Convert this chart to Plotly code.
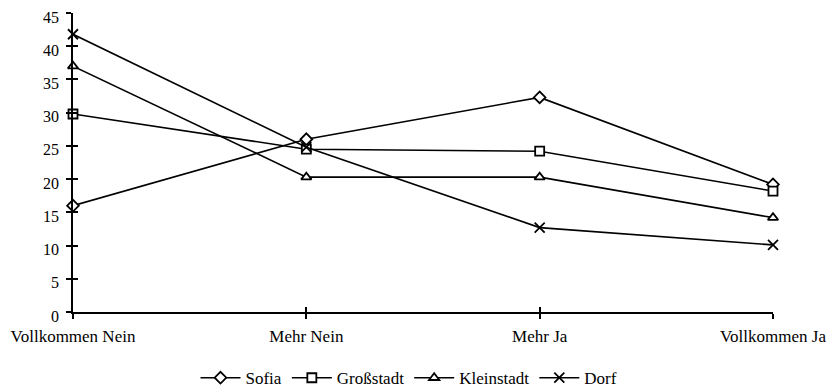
import plotly.graph_objects as go

categories = ["Vollkommen Nein", "Mehr Nein", "Mehr Ja", "Vollkommen Ja"]
x_pos = [0, 1, 2, 3]
sofia = [16.0, 26.0, 32.3, 19.2]
grossstadt = [29.8, 24.5, 24.2, 18.2]
kleinstadt = [37.0, 20.3, 20.3, 14.2]
dorf = [41.8, 24.8, 12.7, 10.1]
y_ticks = [0, 5, 10, 15, 20, 25, 30, 35, 40, 45]

FONT = "Liberation Serif"
series = [
    ("Sofia", sofia, "diamond", 9),
    ("Großstadt", grossstadt, "square", 9),
    ("Kleinstadt", kleinstadt, "triangle-up", 9),
    ("Dorf", dorf, "x-thin", 10),
]

fig = go.Figure()
for name, vals, sym, sz in series:
    fig.add_trace(go.Scatter(
        x=x_pos, y=vals, name=name, mode="lines+markers",
        line=dict(color="black", width=1.6),
        marker=dict(symbol=sym, size=sz, color="white",
                    line=dict(color="black", width=1.8)),
        cliponaxis=False,
    ))

# helper trace so the overlay axes (inner half of crossing ticks) are drawn
fig.add_trace(go.Scatter(x=[None], y=[None], xaxis="x2", yaxis="y2",
                         showlegend=False, hoverinfo="skip"))

axis_common = dict(showgrid=False, zeroline=False, showline=True,
                   linecolor="black", linewidth=1.6, tickcolor="black",
                   tickwidth=1.6, ticklen=5, automargin=False)

fig.update_layout(
    width=828, height=384,
    margin=dict(l=65, r=63, t=5, b=80),
    paper_bgcolor="white", plot_bgcolor="white",
    font=dict(family=FONT, size=17, color="black"),
    xaxis=dict(range=[0, 3], tickvals=x_pos, ticktext=categories,
               ticks="outside", ticklabelstandoff=3,
               ticklabeloverflow="allow", **axis_common),
    yaxis=dict(range=[0, 45], tickvals=y_ticks, ticks="outside",
               ticklabelstandoff=4, ticklabelshift=4,
               ticklabeloverflow="allow",
               tickfont=dict(size=16), **axis_common),
    xaxis2=dict(range=[0, 3], overlaying="x", tickvals=x_pos,
                ticks="inside", showticklabels=False, **axis_common),
    yaxis2=dict(range=[0, 45], overlaying="y", side="left",
                tickvals=y_ticks, ticks="inside", showticklabels=False,
                **axis_common),
    legend=dict(orientation="h", x=0.48, xanchor="center",
                yref="container", y=0.036, yanchor="middle",
                font=dict(family=FONT, size=17),
                itemwidth=40, tracegroupgap=0),
    showlegend=True,
)

fig.write_html("out.html")
